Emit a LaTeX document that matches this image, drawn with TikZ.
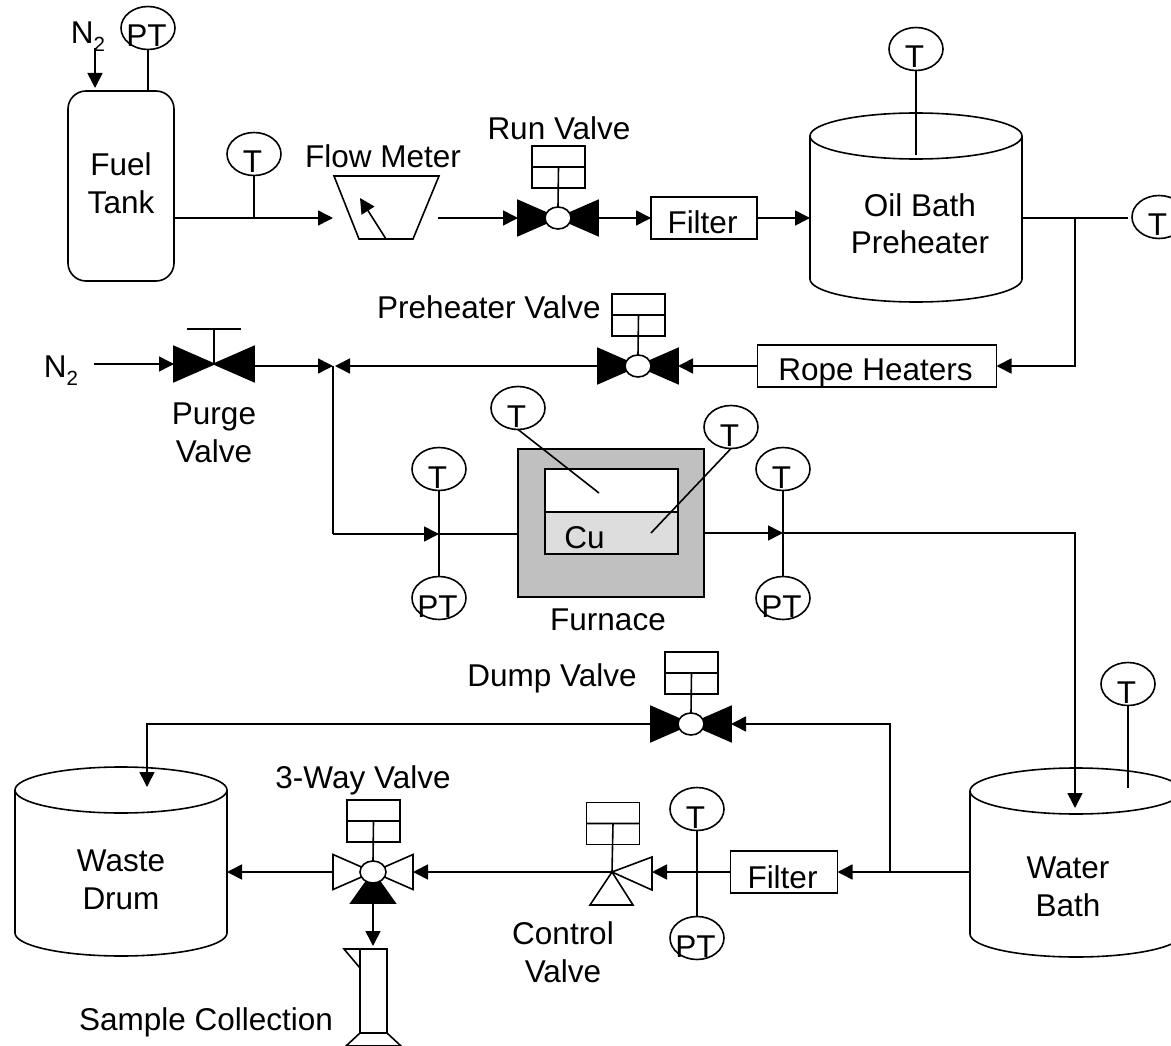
\documentclass[tikz,border=0pt]{standalone}
\usepackage{fontspec}
\setmainfont{Liberation Sans}
\usetikzlibrary{arrows.meta,shapes.geometric}
\tikzset{
  every picture/.style={x=1pt, y=-1pt, line width=1.6pt, >={Triangle[length=15pt,width=15pt]}, font=\fontsize{31.5}{38}\selectfont},
  lbl/.style={inner sep=0pt, anchor=base, align=center},
  gauge/.style={shape=ellipse, draw, minimum width=54, minimum height=43, inner sep=0pt, outer sep=0pt},
  pipebox/.style={draw, inner sep=0pt, outer sep=0pt},
  actbox/.style={draw, minimum width=53, minimum height=42, inner sep=0pt, outer sep=0pt},
  valvebody/.style={shape=ellipse, draw, fill=white, minimum width=26, minimum height=22, inner sep=0pt, outer sep=0pt},
  barrelbody/.style={minimum width=212, minimum height=143, inner sep=0pt, outer sep=0pt},
}
\definecolor{furnacegray}{HTML}{C0C0C0}
\definecolor{copperfill}{HTML}{DDDDDD}
\newcommand{\droptext}[2]{\makebox[0pt]{\raisebox{-#1pt}[0pt][0pt]{#2\hspace{3pt}}}}
\newcommand{\ntwo}{N\raisebox{-8pt}{\fontsize{20.5}{20}\selectfont 2}}
\newcommand{\valvewings}[3]{
  \coordinate (#1) at (#2);
  \draw[fill=#3] ([shift={(-40,-17.5)}]#1) -- (#1) -- ([shift={(-40,17.5)}]#1) -- cycle
  ([shift={(40,-17.5)}]#1) -- (#1) -- ([shift={(40,17.5)}]#1) -- cycle;
  \coordinate (#1-l) at ([xshift=-40pt]#1);
  \coordinate (#1-r) at ([xshift=40pt]#1);
}
\newcommand{\valve}[3]{
  \valvewings{#1}{#2}{#3}
  \node[valvebody] (#1-b) at (#1) {};
  \node[actbox] (#1-a) at ([shift={(0.5,-51)}]#1) {};
  \draw (#1-a.west) -- (#1-a.east)
  (#1-a.center) -- (#1-b.north);
}
\newcommand{\barrel}[2]{
  \begin{scope}[shift={(#2)}]
  \draw (0,0) ellipse (106pt and 23pt);
  \draw (-106,0) -- (-106,143) arc (180:360:106pt and 23pt) -- (106,0);
  \node[barrelbody] (#1) at (0,71.5) {};
  \end{scope}
}
\begin{document}
\begin{tikzpicture}
\useasboundingbox (0,0) rectangle (1171,1046);
\clip (0,0) rectangle (1171,1046);

\node[pipebox, rounded corners=18pt, minimum width=106, minimum height=190] (fueltank) at (121,186) {};
\node[lbl] (fueltext) at (121,214) {Fuel\\Tank};
\node[lbl, anchor=base west] (ntop) at (70,44) {\ntwo};
\node[gauge] (ptfuel) at (148,28) {\droptext{19}{PT}};
\node[gauge] (tfuel) at (254,154) {\droptext{19}{T}};
\coordinate (ntopin) at (95,48);
\coordinate (ntopend) at (95,88);
\coordinate (fueltee) at (254,218);
\coordinate (flowin) at (333,218);
\coordinate (flowout) at (438,218);
\draw[->] (ntopin) -- (ntopend);
\draw (ptfuel.south) -- (ptfuel.south |- fueltank.north);
\draw (tfuel.south) -- (fueltee);
\draw[->] (fueltank.east |- fueltee) -- (flowin);

\draw (334,176) -- (439,176) -- (413,239) -- (359,239) -- cycle;
\draw[->] (386,239) -- (360,198);
\node[lbl] (flowtext) at (383,168) {Flow Meter};

\valve{runvalve}{558,218}{black}
\node[lbl] (runtext) at (559,140) {Run Valve};
\node[pipebox, minimum width=106, minimum height=42] (filterone) at (704,218) {\droptext{16}{Filter}};
\barrel{oilbath}{916,136}
\node[lbl] (oiltext) at (920,254) {Oil Bath\\Preheater};
\node[gauge] (toil) at (916,49) {\droptext{19}{T}};
\node[gauge] (toilout) at (1159,217) {\droptext{19}{T}};
\coordinate (oiltee) at (1075,218);
\coordinate (oilprobe) at (916,155);
\draw[->] (flowout) -- (runvalve-l);
\draw[->] (runvalve-r) -- (filterone.west);
\draw[->] (filterone.east) -- (filterone.east -| oilbath.west);
\draw (toil.south) -- (oilprobe);
\draw (oilbath.east |- oiltee) -- (1128,218);

\node[pipebox, minimum width=239, minimum height=42] (rope) at (877,366) {\droptext{14}{Rope Heaters}};
\valve{prevalve}{638,366}{black}
\node[lbl] (pretext) at (489,318) {Preheater Valve};
\coordinate (tee) at (333,366);
\draw[->] (oiltee) |- (rope.east);
\draw[->] (rope.west) -- (prevalve-r);
\draw[->] (prevalve-l) -- ([xshift=2pt]tee);

\valvewings{purge}{214,364}{black}
\coordinate (purgetop) at (214,329);
\draw (purge) -- (purgetop)
([xshift=-27pt]purgetop) -- ([xshift=27pt]purgetop);
\node[lbl, anchor=base west] (nside) at (43,377) {\ntwo};
\coordinate (nsidein) at (94,364);
\node[lbl] (purgetext) at (214,462) {Purge\\Valve};
\draw[->] (nsidein) -- (purge-l);
\draw[->] (purge-r |- tee) -- (tee);

\node[pipebox, fill=furnacegray, minimum width=186, minimum height=148] (furnace) at (611,523) {};
\node[pipebox, fill=white, minimum width=133, minimum height=85] (retort) at (611.5,511.5) {};
\node[pipebox, fill=copperfill, minimum width=133, minimum height=42] (copper) at (611.5,533) {};
\node[lbl] (cutext) at (584.5,548) {Cu};
\node[lbl] (furnacetext) at (608,630) {Furnace};
\node[gauge] (tretort) at (518,408) {\droptext{19}{T}};
\node[gauge] (tcopper) at (731,427) {\droptext{19}{T}};
\coordinate (retortprobe) at (599,493);
\coordinate (copperprobe) at (651,533);
\draw (tretort.south) -- (retortprobe);
\draw (tcopper.south) -- (copperprobe);

\node[gauge] (tinlet) at (439,469) {\droptext{19}{T}};
\node[gauge] (ptinlet) at (439,598) {\droptext{19}{PT}};
\node[gauge] (toutlet) at (783,469) {\droptext{19}{T}};
\node[gauge] (ptoutlet) at (783,598) {\droptext{19}{PT}};
\coordinate (inbend) at (333,534);
\coordinate (incross) at (439,534);
\coordinate (outcross) at (783,533);
\coordinate (outbend) at (1075,533);
\coordinate (waterin) at (1075,808);
\draw (tee) -- (inbend);
\draw[->] (inbend) -- (incross);
\draw (incross) -- (furnace.west |- incross);
\draw (tinlet.south) -- (ptinlet.north);
\draw[->] (furnace.east |- outcross) -- (outcross);
\draw (toutlet.south) -- (ptoutlet.north);
\draw[->] (outcross) -- (outbend) -- (waterin);

\barrel{waterbath}{1076,791}
\node[lbl] (watertext) at (1068,916) {Water\\Bath};
\node[gauge] (twater) at (1128,684) {\droptext{19}{T}};
\coordinate (waterprobe) at (1128,788);
\draw (twater.south) -- (waterprobe);

\barrel{wastedrum}{121,790}
\node[lbl] (wastetext) at (121,909) {Waste\\Drum};

\node[pipebox, minimum width=107, minimum height=42] (filtertwo) at (784,872) {\droptext{16}{Filter}};
\valve{dumpvalve}{691,724}{black}
\node[lbl] (dumptext) at (552,686) {Dump Valve};
\coordinate (watertee) at (890,872);
\coordinate (drumin) at (147,787);
\draw[->] (waterbath.west |- watertee) -- (filtertwo.east);
\draw[->] (watertee) |- (dumpvalve-r);
\draw[->] (dumpvalve-l) -| (drumin);

\node[gauge] (tline) at (697,809) {\droptext{19}{T}};
\node[gauge] (ptline) at (697,938) {\droptext{19}{PT}};
\draw (tline.south) -- (ptline.north);

\node[actbox] (ctrlbox) at (613,823.5) {};
\coordinate (ctrlvalve) at (612,872);
\draw (ctrlbox.west) -- (ctrlbox.east)
(ctrlbox.center) -- (ctrlvalve);
\draw (ctrlvalve) -- (652,857) -- (652,890) -- cycle;
\draw (ctrlvalve) -- (590,905) -- (633,905) -- cycle;
\node[lbl] (ctrltext) at (563,982) {Control\\Valve};
\draw[->] (filtertwo.west) -- (652,872);

\draw[fill=black] (373,872) -- (351,903) -- (395,903) -- cycle;
\valve{threeway}{373,872}{white}
\node[lbl] (threetext) at (363,788) {3-Way Valve};
\coordinate (threeout) at (373,903);
\coordinate (samplein) at (373,946);
\draw[->] (ctrlvalve) -- (threeway-r);
\draw[->] (threeway-l) -- (threeway-l -| wastedrum.east);
\draw[->] (threeout) -- (samplein);

\node[pipebox, minimum width=27, minimum height=84] (cylinder) at (373.5,991) {};
\draw (cylinder.north west) -- (344,949) -- (360,968);
\draw (cylinder.south west) -- (346,1046) -- (401,1046) -- (cylinder.south east);
\node[lbl] (sampletext) at (206,1030) {Sample Collection};
\end{tikzpicture}
\end{document}
